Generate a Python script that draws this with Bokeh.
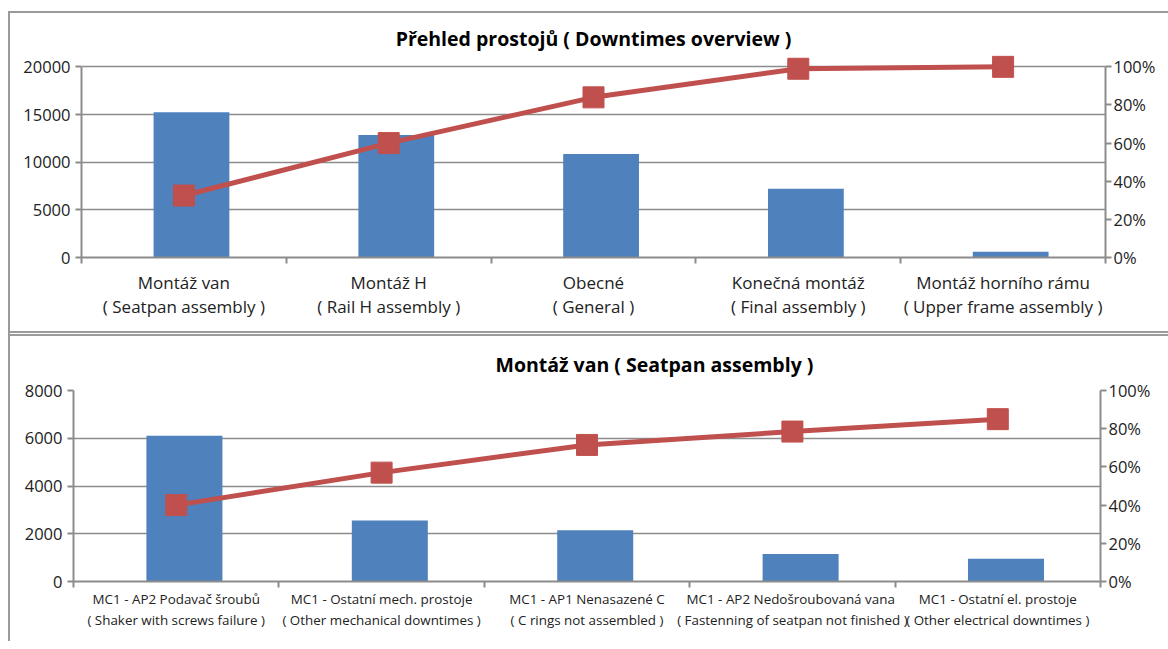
from bokeh.plotting import figure
from bokeh.models import (Range1d, LinearAxis, FixedTicker, NumeralTickFormatter, Div,
                          ColumnDataSource)
from bokeh.layouts import column, row
from bokeh.transform import dodge
from bokeh.embed import file_html
from bokeh.resources import INLINE

# ---- data ----
top_title = "Přehled prostojů ( Downtimes overview )"
top_categories = [
    "Montáž van\n( Seatpan assembly )",
    "Montáž H\n( Rail H assembly )",
    "Obecné\n( General )",
    "Konečná montáž\n( Final assembly )",
    "Montáž horního rámu\n( Upper frame assembly )",
]
top_values = [15250, 12850, 10850, 7200, 600]
top_cum_pct = [0.325, 0.60, 0.84, 0.99, 1.0]
top_left_ticks = [0, 5000, 10000, 15000, 20000]

bottom_title = "Montáž van ( Seatpan assembly )"
bottom_categories = [
    "MC1 - AP2 Podavač šroubů\n( Shaker with screws failure )",
    "MC1 - Ostatní mech. prostoje\n( Other mechanical downtimes )",
    "MC1 - AP1 Nenasazené C\n( C rings not assembled )",
    "MC1 - AP2  Nedošroubovaná vana\n( Fastenning of seatpan not finished )",
    "MC1 - Ostatní el. prostoje\n( Other electrical downtimes )",
]
bottom_values = [6100, 2550, 2150, 1150, 950]
bottom_cum_pct = [0.40, 0.57, 0.715, 0.785, 0.85]
bottom_left_ticks = [0, 2000, 4000, 6000, 8000]

pct_ticks = [0, 0.2, 0.4, 0.6, 0.8, 1.0]

BAR = "#4F81BD"
LINE = "#C0504D"
GRID = "#8c8c8c"
BORDER = "#9a9a9a"
FONT = "Open Sans"


def make_panel(title, cats, vals, cum, left_ticks, w, h, borders, cat_font, cat_lh,
               cat_standoff, title_align, title_offset, title_standoff, headroom,
               bar_shift):
    n = len(cats)
    idx = list(range(n))
    top_val = left_ticks[-1]
    src = ColumnDataSource(dict(x=idx, value=vals, cum=cum))
    p = figure(width=w, height=h, output_backend="svg", toolbar_location=None,
               x_range=Range1d(-0.5, n - 0.5),
               y_range=Range1d(0, top_val * (1 + headroom)),
               min_border_left=borders[0], min_border_right=borders[1],
               min_border_top=borders[2], min_border_bottom=borders[3])
    p.extra_y_ranges = {"pct": Range1d(0, 1 + headroom)}
    p.outline_line_color = None
    p.background_fill_color = "white"
    p.border_fill_color = "white"

    p.title.text = title
    p.title.text_font = FONT
    p.title.text_font_size = "19.5px"
    p.title.text_font_style = "bold"
    p.title.text_color = "black"
    p.title.align = title_align
    p.title.offset = title_offset
    p.title.standoff = title_standoff

    p.vbar(x=dodge("x", bar_shift, range=p.x_range), top="value", width=0.37,
           source=src, fill_color=BAR, line_color=None)
    p.line(x="x", y="cum", source=src, y_range_name="pct", line_color=LINE,
           line_width=5)
    p.scatter(x="x", y="cum", source=src, y_range_name="pct", marker="square",
              size=21, fill_color=LINE, line_color=LINE)

    # category axis: labels at centres, ticks at category boundaries
    xa = p.xaxis[0]
    xa.ticker = FixedTicker(ticks=idx, minor_ticks=[i - 0.5 for i in range(n + 1)])
    xa.major_label_overrides = {i: c for i, c in zip(idx, cats)}
    xa.major_tick_out = 0
    xa.major_tick_in = 0
    xa.minor_tick_out = 6
    xa.minor_tick_in = 0
    xa.minor_tick_line_color = GRID
    xa.minor_tick_line_width = 2
    xa.axis_line_color = GRID
    xa.axis_line_width = 2
    xa.major_label_text_font = FONT
    xa.major_label_text_font_size = cat_font
    xa.major_label_text_color = "#222222"
    xa.major_label_text_line_height = cat_lh
    xa.major_label_standoff = cat_standoff

    ya = p.yaxis[0]
    ya.ticker = FixedTicker(ticks=left_ticks)
    ya.bounds = (0, top_val)
    ya.major_tick_out = 6
    ya.major_tick_in = 0
    ya.minor_tick_line_color = None
    ya.major_tick_line_color = GRID
    ya.major_tick_line_width = 2
    ya.axis_line_color = GRID
    ya.axis_line_width = 2
    ya.major_label_text_font = FONT
    ya.major_label_text_font_size = "16.5px"
    ya.major_label_text_color = "#222222"
    ya.major_label_standoff = 5

    ra = LinearAxis(y_range_name="pct", ticker=FixedTicker(ticks=pct_ticks),
                    formatter=NumeralTickFormatter(format="0%"), bounds=(0, 1))
    ra.major_tick_out = 6
    ra.major_tick_in = 0
    ra.minor_tick_line_color = None
    ra.major_tick_line_color = GRID
    ra.major_tick_line_width = 2
    ra.axis_line_color = GRID
    ra.axis_line_width = 2
    ra.major_label_text_font = FONT
    ra.major_label_text_font_size = "16.5px"
    ra.major_label_text_color = "#222222"
    ra.major_label_standoff = 2
    p.add_layout(ra, "right")

    p.xgrid.grid_line_color = None
    p.ygrid.ticker = FixedTicker(ticks=left_ticks)
    p.ygrid.grid_line_color = GRID
    p.ygrid.grid_line_width = 1.6
    return p


def bar_div(w, h, color):
    return Div(text="", width=w, height=h, margin=0,
               styles={"background-color": color})


top = make_panel(top_title, top_categories, top_values, top_cum_pct, top_left_ticks,
                 1158, 318, (71, 63, 40, 74), "17px", 1.05, 7,
                 "center", 0, 3, 0.07, 0.037)
bottom = make_panel(bottom_title, bottom_categories, bottom_values, bottom_cum_pct,
                    bottom_left_ticks, 1158, 305, (63, 68, 54, 60), "13.4px", 1.22, 2,
                    "left", 422, 25, 0.0, 0.04)

top_root = row(
    bar_div(8, 333, "white"),
    column(bar_div(2, 11, "white"), bar_div(2, 322, BORDER), spacing=0),
    column(bar_div(1158, 11, "white"), bar_div(1158, 2, BORDER), top,
           bar_div(1158, 2, BORDER), spacing=0),
    spacing=0,
)
bottom_root = row(
    bar_div(8, 308, "white"),
    bar_div(2, 308, BORDER),
    column(bar_div(1158, 1, "white"), bar_div(1158, 2, BORDER), bottom, spacing=0),
    spacing=0,
)
open("out.html", "w").write(file_html([top_root, bottom_root], INLINE))
